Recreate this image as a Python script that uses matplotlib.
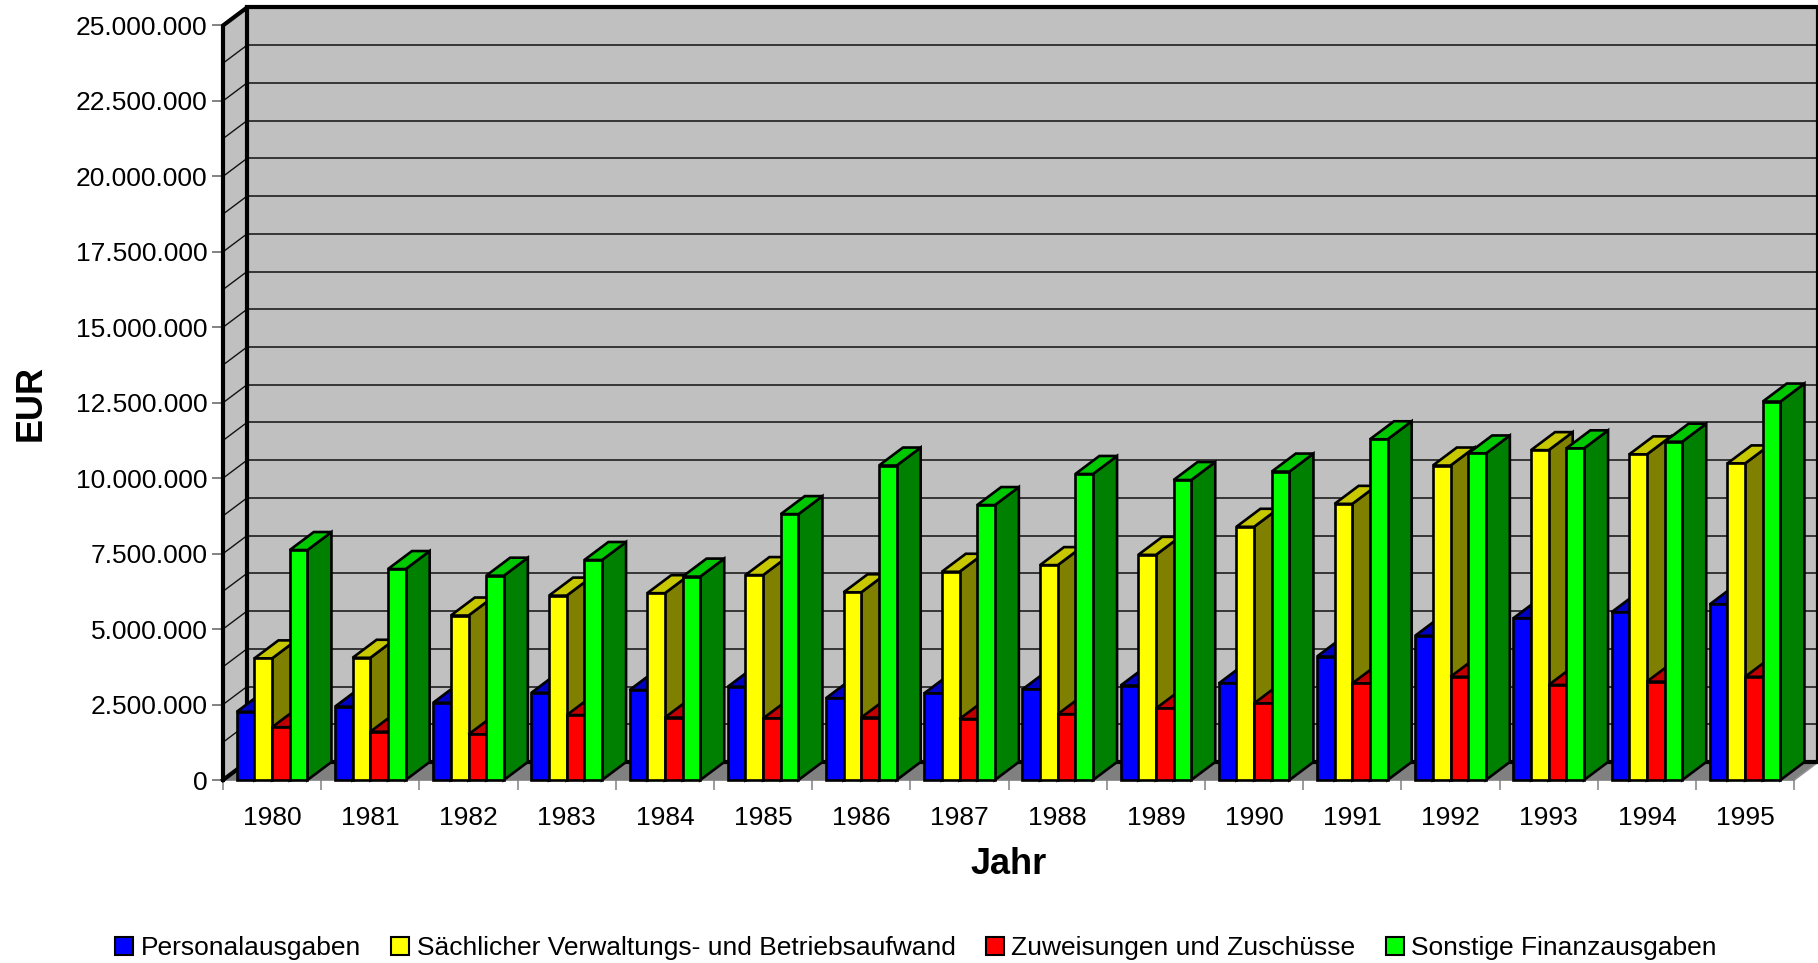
import matplotlib
matplotlib.use("Agg")
import matplotlib.pyplot as plt
import numpy as np
from matplotlib.patches import Polygon, Patch
from matplotlib.ticker import FuncFormatter, FixedLocator

plt.rcParams["font.family"] = ["Liberation Sans", "DejaVu Sans"]

# --- data (EUR) ---
years = ["1980", "1981", "1982", "1983", "1984", "1985", "1986", "1987",
         "1988", "1989", "1990", "1991", "1992", "1993", "1994", "1995"]
personal = [2260000, 2430000, 2560000, 2890000, 2980000, 3090000, 2710000, 2870000,
            3000000, 3130000, 3200000, 4090000, 4780000, 5360000, 5560000, 5820000]
saechlich = [4030000, 4050000, 5450000, 6110000, 6190000, 6790000, 6220000, 6900000,
             7120000, 7460000, 8390000, 9150000, 10420000, 10930000, 10790000, 10490000]
zuweisungen = [1750000, 1600000, 1510000, 2150000, 2070000, 2040000, 2070000, 2020000,
               2180000, 2370000, 2540000, 3200000, 3420000, 3150000, 3260000, 3420000]
sonstige = [7620000, 6990000, 6770000, 7290000, 6740000, 8810000, 10420000, 9110000,
            10140000, 9940000, 10220000, 11290000, 10820000, 10990000, 11210000, 12540000]
series_names = ["Personalausgaben", "Sächlicher Verwaltungs- und Betriebsaufwand",
                "Zuweisungen und Zuschüsse", "Sonstige Finanzausgaben"]
series = [personal, saechlich, zuweisungen, sonstige]
YMAX = 25000000
YSTEP = 2500000

# front / top / side shades per series
SHADES = [("#0000ff", "#0000c0", "#000080"),
          ("#ffff00", "#c8c800", "#808000"),
          ("#ff0000", "#c00000", "#800000"),
          ("#00ff00", "#00c800", "#008000")]

# --- geometry (pixel layout of the 1818x963 canvas) ---
W, H, DPI = 1818, 963, 100
X0, CAT = 223.0, 98.2          # px of first category edge, px per category
Y0, PXV = 780.0, 754.5 / YMAX  # px of zero line (from top), px per EUR
DX = 24 / CAT                  # depth offset in category units
DY = 18 / PXV                  # depth offset in EUR
GROUP = 0.72
BW = GROUP / 4

fig = plt.figure(figsize=(W / DPI, H / DPI), dpi=DPI)
xlo, xhi = -0.15, 16.26
ylo, yhi = -0.6e6, 25.8e6
l = (X0 + xlo * CAT) / W
r = (X0 + xhi * CAT) / W
b = (H - (Y0 - ylo * PXV)) / H
t = (H - (Y0 - yhi * PXV)) / H
ax = fig.add_axes([l, b, r - l, t - b])
ax.set_xlim(xlo, xhi)
ax.set_ylim(ylo, yhi)
ax.patch.set_visible(False)
n = len(years)

# walls
left_wall = Polygon([(0, 0), (DX, DY), (DX, YMAX + DY), (0, YMAX)], closed=True,
                    facecolor="#c0c0c0", edgecolor="none", zorder=1)
back_wall = Polygon([(DX, DY), (n + DX, DY), (n + DX, YMAX + DY), (DX, YMAX + DY)], closed=True,
                    facecolor="#c0c0c0", edgecolor="none", zorder=1)
ax.add_patch(left_wall); ax.add_patch(back_wall)
for v in np.arange(YSTEP / 2, YMAX, YSTEP / 2):
    ax.plot([DX, n + DX], [v + DY, v + DY], color="#111111", lw=1.1, zorder=1.5)
    ax.plot([0, DX], [v, v + DY], color="#111111", lw=1.0, zorder=1.5)

# floor
floor = Polygon([(0, 0), (n, 0), (n + DX, DY), (DX, DY)], closed=True,
                facecolor="#808080", edgecolor="none", zorder=2)
ax.add_patch(floor)
ax.plot([n, n + DX], [0, DY], color="#909090", lw=1.2, zorder=2.5)

# thick outlines of the walls
kw = dict(color="black", lw=3.0, zorder=3, solid_capstyle="projecting", clip_on=False)
ax.plot([0, 0, DX, DX], [0, YMAX, YMAX + DY, DY], **kw)
ax.plot([0, DX], [0, DY], **kw)
ax.plot([DX, n + DX, n + DX, DX], [YMAX + DY, YMAX + DY, DY, DY], **kw)

# 3D bars
z = 10
for i in range(n):
    for j, vals in enumerate(series):
        h = vals[i]
        x = i + (1 - GROUP) / 2 + j * BW
        front_c, top_c, side_c = SHADES[j]
        ek = dict(edgecolor="black", lw=1.9, joinstyle="miter", zorder=z)
        ax.add_patch(Polygon([(x + BW, 0), (x + BW + DX, DY), (x + BW + DX, h + DY), (x + BW, h)],
                             closed=True, facecolor=side_c, **ek))
        ax.add_patch(Polygon([(x, h), (x + BW, h), (x + BW + DX, h + DY), (x + DX, h + DY)],
                             closed=True, facecolor=top_c, **ek))
        ax.add_patch(Polygon([(x, 0), (x + BW, 0), (x + BW, h), (x, h)],
                             closed=True, facecolor=front_c, **ek))
        z += 1

# axes: y ticks at front edge, x ticks at category borders
for s in ["top", "right", "left"]:
    ax.spines[s].set_visible(False)
ax.spines["left"].set_position(("data", 0))
ax.spines["bottom"].set_position(("data", 0))
ax.spines["bottom"].set_bounds(0, n)
ax.spines["bottom"].set_color("#808080")
ax.spines["bottom"].set_linewidth(1.2)
ax.set_yticks(np.arange(0, YMAX + 1, YSTEP))
ax.yaxis.set_major_formatter(FuncFormatter(lambda v, p: f"{v:,.0f}".replace(",", ".")))
ax.tick_params(axis="y", length=8, width=1.1, color="#606060", pad=3, labelsize=19)
ax.set_xticks(np.arange(0, n + 1))
ax.set_xticklabels([])
ax.xaxis.set_minor_locator(FixedLocator(np.arange(n) + 0.5))
ax.set_xticklabels(years, minor=True)
ax.tick_params(axis="x", which="major", length=7, width=1.1, color="#808080")
ax.tick_params(axis="x", which="minor", length=0, pad=18.5, labelsize=19)

fig.text(31 / W, 1 - 403 / H, "EUR", rotation=90, fontsize=26, fontweight="bold",
         ha="center", va="center")
fig.text(1009 / W, 1 - 864 / H, "Jahr", fontsize=26, fontweight="bold",
         ha="center", va="center")

handles = [Patch(facecolor=c[0], edgecolor="black", lw=1.5, label=nm)
           for c, nm in zip(SHADES, series_names)]
fig.legend(handles=handles, loc="center", bbox_to_anchor=(916 / W, 1 - 948 / H), ncol=4,
           frameon=False, fontsize=19, handlelength=0.68, handleheight=0.65,
           handletextpad=0.28, columnspacing=1.15, borderaxespad=0)

fig.savefig("out.png", dpi=DPI)
